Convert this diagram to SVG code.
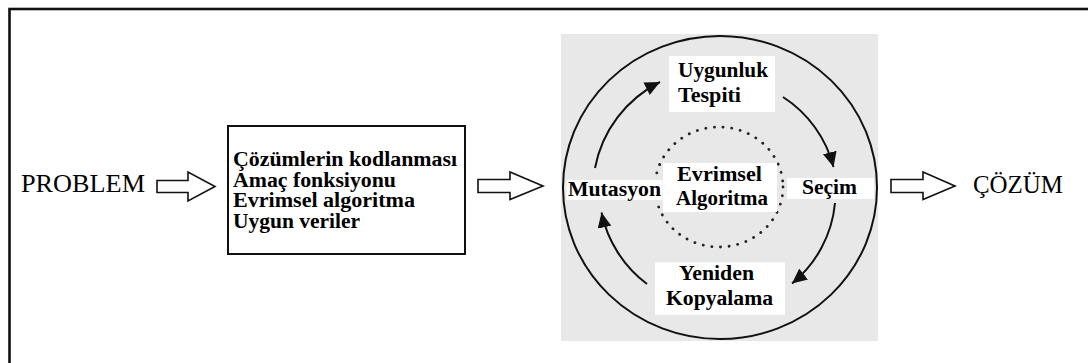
<svg xmlns="http://www.w3.org/2000/svg" width="1088" height="363" viewBox="0 0 1088 363">
<style>
.reg{font-family:"Liberation Serif","Times New Roman",serif;font-size:25px;fill:#000}
.b{font-family:"Liberation Serif","Times New Roman",serif;font-size:20px;font-weight:bold;fill:#000}
.wb{fill:#fff;stroke:none}
.hollow{fill:#fff;stroke:#111;stroke-width:1.6;stroke-linejoin:miter}
.cur{fill:none;stroke:#111;stroke-width:2;marker-end:url(#ah)}
</style>
<defs>
<marker id="ah" markerWidth="16" markerHeight="14" refX="15" refY="7" orient="auto" markerUnits="userSpaceOnUse">
<path d="M0,0 L15,7 L0,14 Z" fill="#111"/>
</marker>
</defs>
<rect width="1088" height="363" fill="#fff"/>
<rect id="frame" x="9.5" y="9" width="1100" height="400" fill="none" stroke="#111" stroke-width="2.6"/>

<g id="problem">
<text class="reg" x="21" y="192" textLength="124" lengthAdjust="spacingAndGlyphs">PROBLEM</text>
</g>

<g id="inputs">
<rect x="228" y="126" width="237" height="128" fill="#fff" stroke="#111" stroke-width="2"/>
<text class="b" x="233" y="165.5" textLength="224" lengthAdjust="spacingAndGlyphs">Çözümlerin kodlanması</text>
<text class="b" x="233" y="186.5" textLength="163" lengthAdjust="spacingAndGlyphs">Amaç fonksiyonu</text>
<text class="b" x="233" y="207" textLength="182" lengthAdjust="spacingAndGlyphs">Evrimsel algoritma</text>
<text class="b" x="233" y="227.5" textLength="127" lengthAdjust="spacingAndGlyphs">Uygun veriler</text>
</g>

<g id="cycle">
<rect x="561" y="34" width="317" height="307" fill="#e8e8e8"/>
<ellipse cx="720" cy="187.5" rx="157" ry="151.5" fill="none" stroke="#111" stroke-width="2"/>
<ellipse cx="719" cy="187" rx="64" ry="60" fill="none" stroke="#222" stroke-width="2.8" stroke-linecap="round" stroke-dasharray="0.1 8.6"/>
</g>

<g id="uygunluk">
<rect class="wb" x="669" y="56" width="106" height="56"/>
<text class="b" x="678" y="77" textLength="90" lengthAdjust="spacingAndGlyphs">Uygunluk</text>
<text class="b" x="678" y="101.5" textLength="63" lengthAdjust="spacingAndGlyphs">Tespiti</text>
</g>

<g id="mutasyon">
<rect class="wb" x="566.5" y="180" width="96" height="20"/>
<text class="b" x="568" y="196" textLength="93" lengthAdjust="spacingAndGlyphs">Mutasyon</text>
</g>

<g id="evrimsel">
<rect class="wb" x="663" y="163" width="114" height="49"/>
<text class="b" x="677" y="181" textLength="85" lengthAdjust="spacingAndGlyphs">Evrimsel</text>
<text class="b" x="676" y="204.5" textLength="92" lengthAdjust="spacingAndGlyphs">Algoritma</text>
</g>

<g id="secim">
<rect class="wb" x="787" y="178" width="87" height="21"/>
<text class="b" x="802" y="193.5" textLength="55" lengthAdjust="spacingAndGlyphs">Seçim</text>
</g>

<g id="yeniden">
<rect class="wb" x="655" y="262.5" width="130" height="52.5"/>
<text class="b" x="679" y="280" textLength="75" lengthAdjust="spacingAndGlyphs">Yeniden</text>
<text class="b" x="666" y="305" textLength="107" lengthAdjust="spacingAndGlyphs">Kopyalama</text>
</g>

<g id="solution">
<text class="reg" x="973" y="193" font-size="24" textLength="90" lengthAdjust="spacingAndGlyphs">ÇÖZÜM</text>
</g>

<g id="connectors">
<polygon class="hollow" points="157,180.5 188,180.5 188,172 215,186.5 188,201 188,192.5 157,192.5"/>
<polygon class="hollow" points="478,179.5 510,179.5 510,172 543,186 510,199.5 510,192.5 478,192.5"/>
<polygon class="hollow" points="891,179.5 923,179.5 923,172 955,186 923,199.5 923,192.5 891,192.5"/>
<path class="cur" d="M595,168 A122,122 0 0 1 660,82"/>
<path class="cur" d="M783,97 A118,118 0 0 1 833.5,167"/>
<path class="cur" d="M835,203 A118,118 0 0 1 792,283.5"/>
<path class="cur" d="M647,284 A120,120 0 0 1 601.5,212.5"/>
</g>
</svg>
